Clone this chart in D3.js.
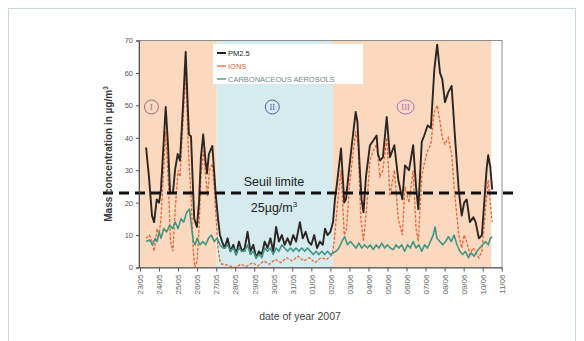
<!DOCTYPE html>
<html>
<head>
<meta charset="utf-8">
<script src="https://cdn.jsdelivr.net/npm/d3@7"></script>
<style>
  body { margin: 0; background: #fff; }
  svg { display: block; font-family: "Liberation Sans", Arial, sans-serif; }
</style>
</head>
<body>
<div id="chart"></div>
<script>
// x tick labels (one per day)
const dayLabels = ["23/05","24/05","25/05","26/05","27/05","28/05","29/05","30/05","31/05","01/06",
                   "02/06","03/06","04/06","05/06","06/06","07/06","08/06","09/06","10/06","11/06"];
const yTicks = [0, 10, 20, 30, 40, 50, 60, 70];

// periods (in days from first tick)
const periodNames = ["I", "II", "III"];
const periodStart = [-0.05, 4.03, 10.14];
const periodEnd = [4.03, 10.14, 18.45];
const periodMarkDay = [0.6, 6.95, 13.95];

const threshold = 23;

// [day, value] pairs
const pm25 = [[0.32,37],[0.47,28],[0.63,16],[0.74,14],[0.88,21],[1.0,20],[1.1,24],[1.35,49.5],[1.47,38],[1.58,23],
  [1.73,23],[1.84,30],[1.98,35],[2.1,33],[2.26,50],[2.4,66.5],[2.52,48],[2.57,41],[2.68,40.5],[2.78,25],[2.85,15],
  [2.99,12.5],[3.1,20],[3.2,34],[3.32,41],[3.44,33],[3.52,29],[3.62,35],[3.8,37.5],[3.89,30],[3.97,23],[4.1,15],
  [4.2,10],[4.31,8],[4.45,6],[4.6,9],[4.75,5],[4.9,7],[5.05,4],[5.2,8],[5.35,5],[5.5,6],[5.65,11],[5.8,5],[5.95,7],
  [6.1,3],[6.25,5],[6.4,4],[6.55,8],[6.7,6],[6.85,9],[7.0,5],[7.15,12.5],[7.3,8],[7.45,10],[7.6,7],[7.75,9],[7.9,7],
  [8.05,10],[8.2,8],[8.4,14],[8.55,9],[8.7,11],[8.85,8],[9.0,7],[9.15,10],[9.3,6],[9.45,8],[9.6,7],[9.72,12],
  [9.85,10],[10.0,11],[10.14,14],[10.24,21],[10.35,26],[10.56,36.7],[10.73,20],[10.82,21],[10.98,30],[11.13,38],
  [11.33,48],[11.42,45],[11.55,30],[11.64,21],[11.74,17],[11.87,28],[12.08,37.7],[12.24,39],[12.43,40.7],[12.5,35],
  [12.62,33],[12.76,34],[12.96,46.4],[13.13,34],[13.36,37.7],[13.57,27],[13.78,21],[13.92,31.5],[14.13,30],
  [14.35,37.7],[14.5,25],[14.62,18],[14.8,38.7],[14.93,40.7],[15.11,43.8],[15.28,43],[15.46,61],[15.61,68.7],
  [15.76,60],[15.88,58],[16.02,51],[16.19,54],[16.37,56],[16.54,40.8],[16.75,23.3],[16.9,16],[17.03,20],[17.16,21],
  [17.33,14],[17.51,15.5],[17.63,14],[17.8,9],[17.96,10],[18.21,30.5],[18.29,34.6],[18.4,31],[18.5,24]];

const ions = [[0.32,9],[0.5,10],[0.63,8],[0.74,5],[0.9,12],[1.0,10],[1.1,15],[1.35,42],[1.5,25],[1.6,8],[1.73,5],
  [1.85,18],[2.0,30],[2.1,28],[2.26,45],[2.4,60],[2.55,35],[2.7,20],[2.8,5],[2.88,0],[3.0,2],[3.1,12],[3.2,28],
  [3.32,36],[3.45,28],[3.55,22],[3.65,30],[3.8,32],[3.9,24],[4.0,15],[4.1,6],[4.2,2],[4.3,1],[4.4,1],[4.7,0.5],
  [5.0,0],[5.3,1],[5.6,0.3],[5.9,1.5],[6.2,0.5],[6.5,2],[6.8,1],[7.1,2.5],[7.4,1.5],[7.7,3],[8.0,2],[8.3,3.5],
  [8.6,2],[8.9,3],[9.2,1.5],[9.5,3],[9.8,2.5],[10.1,4],[10.2,8],[10.35,18],[10.56,30],[10.73,10],[10.85,12],
  [11.0,25],[11.13,32],[11.33,42],[11.45,38],[11.6,15],[11.74,8],[11.9,18],[12.08,33],[12.25,36],[12.43,38],
  [12.6,28],[12.76,30],[12.96,40],[13.13,22],[13.36,30],[13.57,15],[13.78,10],[13.92,25],[14.13,20],[14.35,30],
  [14.5,12],[14.62,8],[14.8,28],[14.93,32],[15.11,36],[15.28,38],[15.46,48],[15.61,50],[15.76,45],[15.88,40],
  [16.02,38],[16.19,40],[16.37,35],[16.54,22],[16.75,10],[16.9,6],[17.03,10],[17.16,8],[17.33,4],[17.5,6],
  [17.63,5],[17.8,3],[17.96,5],[18.21,22],[18.29,27],[18.4,20],[18.5,14]];

const carbon = [[0.32,8],[0.5,8.5],[0.65,7],[0.8,9],[0.9,8],[1.0,11],[1.1,9],[1.25,12],[1.4,11],[1.55,13],[1.7,12],
  [1.85,14],[2.0,12],[2.15,15],[2.3,14],[2.45,17],[2.6,18],[2.7,13],[2.8,8],[2.9,7],[3.0,9],[3.15,7],[3.3,8],
  [3.45,7],[3.6,9],[3.75,10],[3.9,8],[4.05,9],[4.2,7],[4.35,6],[4.45,6],[4.6,7],[4.75,5],[4.9,6],[5.05,4],[5.2,6],
  [5.35,5],[5.5,5],[5.65,7],[5.8,4],[5.95,5],[6.1,3],[6.25,4],[6.4,3],[6.55,6],[6.7,5],[6.85,6],[7.0,4],[7.15,6],
  [7.3,5],[7.45,7],[7.6,6],[7.75,5],[7.9,6],[8.05,5],[8.2,6],[8.35,5],[8.5,6],[8.65,5],[8.8,6],[8.95,5],[9.1,4],
  [9.25,5],[9.4,4],[9.55,5],[9.7,4],[9.85,5],[10.0,4],[10.15,4.5],[10.3,5],[10.45,6],[10.6,8],[10.75,9.5],[10.9,7],
  [11.05,8],[11.2,7],[11.35,6],[11.5,7.5],[11.65,6],[11.8,7],[11.95,6],[12.1,7],[12.25,5.5],[12.4,7],[12.55,6],
  [12.7,7.5],[12.85,6],[13.0,7],[13.15,6],[13.3,5.5],[13.45,7],[13.6,6],[13.75,7],[13.9,5],[14.05,7],[14.2,6],
  [14.35,8],[14.5,6],[14.65,7],[14.8,5],[14.95,7],[15.1,6],[15.25,8],[15.4,10],[15.5,12.5],[15.6,9],[15.75,8],
  [15.9,7],[16.05,8],[16.2,9.5],[16.35,8],[16.5,10],[16.65,7],[16.8,5],[16.95,4],[17.1,5],[17.25,3],[17.4,4.5],
  [17.55,3.5],[17.7,5],[17.85,6],[18.0,7],[18.15,8],[18.3,7],[18.4,9],[18.5,9.5]];

const legendNames = ["PM2.5", "IONS", "CARBONACEOUS AEROSOLS"];

// ---- drawing ----
const W = 584, H = 341;
const svg = d3.select("#chart").append("svg").attr("width", W).attr("height", H);

// outer frame
svg.append("rect").attr("x", 8.5).attr("y", 8.5).attr("width", 567).attr("height", 340)
  .attr("fill", "none").attr("stroke", "#c9dcdf").attr("stroke-width", 1);

const plot = { left: 139, right: 502, top: 40.5, bottom: 267.5 };
const x = d3.scaleLinear().domain([0, 19]).range([140, 501.7]);
const y = d3.scaleLinear().domain([0, 70]).range([plot.bottom, plot.top]);

// period backgrounds
const periodFill = ["#fbd9bf", "#d5ebee", "#fbd9bf"];
svg.append("g").selectAll("rect").data(periodNames).enter().append("rect")
  .attr("x", (d, i) => x(periodStart[i]))
  .attr("y", plot.top)
  .attr("width", (d, i) => x(periodEnd[i]) - x(periodStart[i]))
  .attr("height", plot.bottom - plot.top)
  .attr("fill", (d, i) => periodFill[i]);

// plot frame
svg.append("rect").attr("x", plot.left).attr("y", plot.top)
  .attr("width", plot.right - plot.left).attr("height", plot.bottom - plot.top)
  .attr("fill", "none").attr("stroke", "#8c8c8c").attr("stroke-width", 1);

// legend box
svg.append("rect").attr("x", 213).attr("y", 44).attr("width", 150).attr("height", 40).attr("fill", "#fff");

// period markers
const markColor = ["#b06478", "#5462a8", "#a474bc"];
const marks = svg.append("g").selectAll("g").data(periodNames).enter().append("g")
  .attr("transform", (d, i) => `translate(${x(periodMarkDay[i])},${y(49.5)})`);
marks.append("ellipse").attr("rx", (d) => d.length > 2 ? 8.5 : 7).attr("ry", 7)
  .attr("fill", "none").attr("stroke", (d, i) => markColor[i]).attr("stroke-width", 1);
marks.append("text").attr("text-anchor", "middle").attr("dy", "0.35em")
  .attr("font-size", 8.5).attr("font-family", "Liberation Serif, serif")
  .attr("fill", (d, i) => markColor[i]).text(d => d);

// lines
const line = d3.line().x(d => x(d[0])).y(d => y(d[1]));
svg.append("path").datum(ions).attr("d", line).attr("fill", "none")
  .attr("stroke", "#e8683c").attr("stroke-width", 1.3).attr("stroke-dasharray", "3,1.5");
svg.append("path").datum(pm25).attr("d", line).attr("fill", "none")
  .attr("stroke", "#2b2622").attr("stroke-width", 1.9).attr("stroke-linejoin", "round");
svg.append("path").datum(carbon).attr("d", line).attr("fill", "none")
  .attr("stroke", "#3f9683").attr("stroke-width", 1.6).attr("stroke-linejoin", "round");

// threshold line
svg.append("line").attr("x1", 103).attr("x2", 514)
  .attr("y1", y(threshold)).attr("y2", y(threshold))
  .attr("stroke", "#111").attr("stroke-width", 3).attr("stroke-dasharray", "10,6");
svg.append("text").attr("x", 274).attr("y", y(threshold) - 7).attr("text-anchor", "middle")
  .attr("font-size", 12.5).attr("fill", "#222").text("Seuil limite");
svg.append("text").attr("x", 274).attr("y", y(threshold) + 19).attr("text-anchor", "middle")
  .attr("font-size", 12.5).attr("fill", "#222")
  .text("25µg/m").append("tspan").attr("font-size", 8).attr("dy", -5).text("3");

// legend entries
const legendColor = ["#222", "#e8683c", "#3f9683"];
const legendText = ["#222", "#e06040", "#6d8c88"];
const lg = svg.append("g").selectAll("g").data(legendNames).enter().append("g")
  .attr("transform", (d, i) => `translate(217,${53 + i * 13})`);
lg.append("line").attr("x1", 0).attr("x2", 9)
  .attr("stroke", (d, i) => legendColor[i]).attr("stroke-width", (d, i) => i === 0 ? 2 : 1.3);
lg.append("text").attr("x", 11).attr("dy", "0.35em").attr("font-size", 7.5)
  .attr("fill", (d, i) => legendText[i]).text(d => d);

// y axis
const yAxis = svg.append("g").attr("transform", `translate(${plot.left},0)`)
  .call(d3.axisLeft(y).tickValues(yTicks).tickSize(3).tickPadding(3));
yAxis.select(".domain").attr("stroke", "#555");
yAxis.selectAll(".tick line").attr("stroke", "#555");
yAxis.selectAll("text").attr("font-size", 7.5).attr("fill", "#555");

// x axis
const xAxis = svg.append("g").attr("transform", `translate(0,${plot.bottom})`)
  .call(d3.axisBottom(x).tickValues(d3.range(dayLabels.length)).tickFormat(i => dayLabels[i])
    .tickSize(4).tickSizeOuter(0));
xAxis.select(".domain").attr("stroke", "#555");
xAxis.selectAll(".tick line").attr("stroke", "#555");
xAxis.selectAll("text").attr("font-size", 8).attr("fill", "#666")
  .attr("text-anchor", "end").attr("transform", "rotate(-90)")
  .attr("x", -7).attr("y", 0).attr("dy", "0.35em");

// axis titles
svg.append("text").attr("transform", `translate(112,${(plot.top + plot.bottom) / 2}) rotate(-90)`)
  .attr("text-anchor", "middle").attr("font-size", 10).attr("font-weight", "bold").attr("fill", "#3a3a3a")
  .text("Mass concentration in µg/m").append("tspan").attr("font-size", 6.5).attr("dy", -4).text("3");
svg.append("text").attr("x", 300).attr("y", 320).attr("text-anchor", "middle")
  .attr("font-size", 10.5).attr("fill", "#444").text("date of year 2007");
</script>
</body>
</html>
